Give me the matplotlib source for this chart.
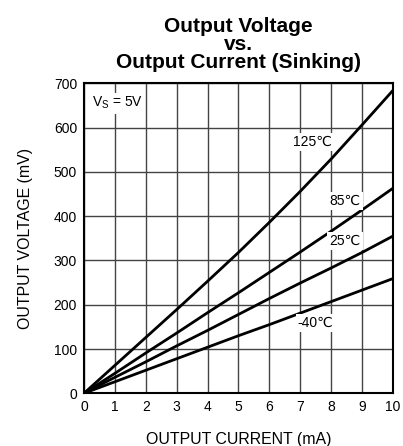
"""Output Voltage vs. Output Current (Sinking) 曲线。"""

import matplotlib
matplotlib.use("Agg")
import matplotlib.pyplot as plt

plt.rcParams["font.family"] = ["Liberation Sans", "DejaVu Sans"]

CURRENT = [0, 1, 2, 3, 4, 5, 6, 7, 8, 9, 10]
V_125 = [0, 63, 126, 189, 253, 318, 386, 456, 529, 606, 684]
V_85 = [0, 45, 91, 136, 182, 227, 273, 319, 366, 414, 463]
V_25 = [0, 36, 71, 107, 142, 178, 214, 249, 283, 318, 355]
V_M40 = [0, 26, 52, 78, 104, 130, 155, 181, 207, 233, 259]

SERIES = [V_125, V_85, V_25, V_M40]
LABELS = ["125℃", "85℃", "25℃", "-40℃"]
LABEL_POS = [(7.4, 568), (8.45, 434), (8.45, 344), (7.5, 158)]

X_TICKS = list(range(0, 11))
Y_TICKS = list(range(0, 701, 100))


def main() -> None:
    fig = plt.figure(figsize=(4.03, 4.46), dpi=100)
    ax = fig.add_axes([0.2084, 0.1182, 0.7666, 0.695])

    for v in SERIES:
        ax.plot(CURRENT, v, color="black", linewidth=2.0, zorder=3)

    for txt, (x, y) in zip(LABELS, LABEL_POS):
        ax.text(x, y, txt, ha="center", va="center", fontsize=10, zorder=4,
                bbox=dict(facecolor="white", edgecolor="none", pad=1.5))

    ax.text(0.25, 655, "V$_\\mathregular{S}$ = 5V", ha="left", va="center",
            fontsize=10, zorder=4,
            bbox=dict(facecolor="white", edgecolor="none", pad=1.5))

    ax.set_xlim(0, 10)
    ax.set_ylim(0, 700)
    ax.set_xticks(X_TICKS)
    ax.set_yticks(Y_TICKS)
    ax.tick_params(length=0, labelsize=10, pad=5)
    ax.grid(color="#444444", linewidth=1.0)
    ax.set_axisbelow(True)
    for s in ax.spines.values():
        s.set_linewidth(1.5)

    ax.set_xlabel("OUTPUT CURRENT (mA)", fontsize=11.4, labelpad=13)
    ax.set_ylabel("OUTPUT VOLTAGE (mV)", fontsize=11.4, labelpad=15)
    ax.set_title("Output Voltage\nvs.\nOutput Current (Sinking)",
                 fontsize=15, fontweight="bold", linespacing=0.95, pad=11)

    plt.savefig("out.png", dpi=100)


if __name__ == "__main__":
    main()
